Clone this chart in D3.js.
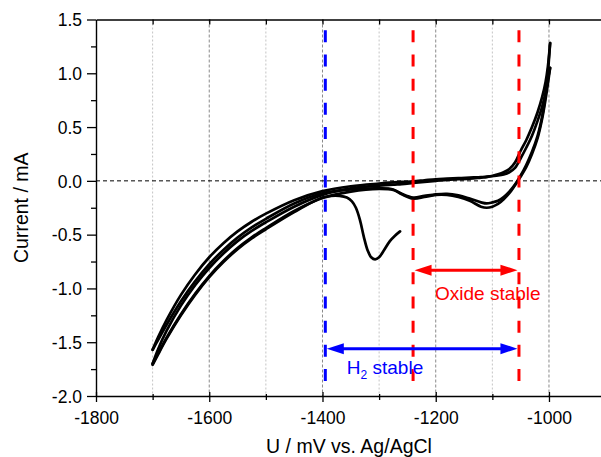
<!DOCTYPE html>
<html>
<head>
<meta charset="utf-8">
<script src="https://cdn.jsdelivr.net/npm/d3@7"></script>
<style>
  body { margin: 0; background: #fff; }
  svg { display: block; font-family: "Liberation Sans", Arial, sans-serif; }
</style>
</head>
<body>
<svg id="chart" width="601" height="457"></svg>
<script>
// Potential grid (mV vs. Ag/AgCl) shared by the full sweeps
const potential = [-1700,-1690,-1675,-1650,-1625,-1600,-1575,-1550,-1525,-1500,-1450,-1400,-1350,-1300,-1275,-1260,-1240,-1220,-1200,-1180,-1160,-1140,-1120,-1110,-1100,-1090,-1080,-1070,-1060,-1050,-1040,-1030,-1020,-1012,-1006,-1002,-998];

// Current (mA) of each sweep on the potential grid
const anodic1 = [-1.70,-1.56,-1.39,-1.16,-0.97,-0.81,-0.675,-0.56,-0.465,-0.385,-0.24,-0.13,-0.07,-0.045,-0.035,-0.03,-0.02,-0.01,0.00,0.01,0.015,0.02,0.03,0.035,0.045,0.06,0.08,0.11,0.17,0.28,0.38,0.50,0.64,0.78,0.92,1.06,1.28];
const cathodic1 = [-1.57,-1.475,-1.335,-1.12,-0.935,-0.775,-0.642,-0.528,-0.433,-0.353,-0.21,-0.115,-0.08,-0.07,-0.08,-0.12,-0.155,-0.14,-0.125,-0.12,-0.135,-0.165,-0.2,-0.21,-0.2,-0.185,-0.15,-0.1,-0.035,0.05,0.15,0.27,0.42,0.60,0.80,1.00,1.28];
const anodic2 = [-1.57,-1.45,-1.29,-1.06,-0.87,-0.71,-0.58,-0.47,-0.38,-0.305,-0.18,-0.095,-0.05,-0.025,-0.015,-0.01,-0.005,0.005,0.015,0.02,0.025,0.03,0.035,0.04,0.045,0.05,0.06,0.08,0.12,0.21,0.31,0.42,0.56,0.69,0.82,0.94,1.05];
const cathodic2 = [-1.70,-1.60,-1.455,-1.24,-1.05,-0.885,-0.745,-0.625,-0.525,-0.44,-0.28,-0.16,-0.10,-0.075,-0.085,-0.125,-0.165,-0.15,-0.13,-0.13,-0.15,-0.185,-0.24,-0.25,-0.24,-0.215,-0.17,-0.115,-0.04,0.04,0.13,0.25,0.40,0.58,0.76,0.90,1.05];

// First cathodic scan from the rest potential, with its reduction peak
const initialPotential = [-1700,-1690,-1675,-1650,-1625,-1600,-1575,-1550,-1525,-1500,-1450,-1400,-1385,-1370,-1357,-1348,-1341,-1334,-1327,-1320,-1314,-1307,-1300,-1292,-1281,-1272,-1263];
const initialCurrent = [-1.71,-1.61,-1.465,-1.25,-1.06,-0.895,-0.755,-0.635,-0.535,-0.45,-0.29,-0.155,-0.14,-0.14,-0.155,-0.19,-0.25,-0.36,-0.52,-0.65,-0.71,-0.73,-0.71,-0.65,-0.56,-0.51,-0.47];

// Stability window boundaries (mV) and their vertical extent (mA)
const h2Boundaries = [-1395, -1053];
const oxideBoundaries = [-1240, -1053];
const markerSpan = [1.40, -1.86];
const oxideArrowCurrent = -0.83;
const h2ArrowCurrent = -1.56;

// Axis ticks
const xTickValues = [-1800, -1600, -1400, -1200, -1000];
const xMinorTicks = [-1700, -1500, -1300, -1100];
const xGridValues = [-1700, -1600, -1500, -1400, -1300, -1200, -1100, -1000];
const yTickValues = [1.5, 1.0, 0.5, 0.0, -0.5, -1.0, -1.5, -2.0];
const yMinorTicks = [1.25, 0.75, 0.25, -0.25, -0.75, -1.25, -1.75];

const svg = d3.select("#chart");
const W = 601;
const x = d3.scaleLinear().domain([-1800, -900]).range([96, 605.6]);
const y = d3.scaleLinear().domain([-2, 1.5]).range([396, 19.5]);
const yBottom = y(-2), yTop = y(1.5);

// Vertical grid
svg.append("g").selectAll("line").data(xGridValues).join("line")
  .attr("x1", d => x(d)).attr("x2", d => x(d))
  .attr("y1", yTop).attr("y2", yBottom)
  .attr("stroke", d => (d % 200 === 0) ? "#8a8a8a" : "#c4c4c4")
  .attr("stroke-width", 1)
  .attr("stroke-dasharray", d => (d % 200 === 0) ? "3,2" : "2,2");

// Zero-current line
svg.append("line")
  .attr("x1", x(-1800)).attr("x2", W)
  .attr("y1", y(0)).attr("y2", y(0))
  .attr("stroke", "#000").attr("stroke-width", 1)
  .attr("stroke-dasharray", "4,3");

// Voltammogram
const line = d3.line().x(d => x(d[0])).y(d => y(d[1])).curve(d3.curveCatmullRom.alpha(0.5));
const sweeps = [anodic1, cathodic1, anodic2, cathodic2].map(s => potential.map((e, i) => [e, s[i]]));
sweeps.push(initialPotential.map((e, i) => [e, initialCurrent[i]]).sort((a, b) => a[0] - b[0]));
svg.append("g").selectAll("path").data(sweeps).join("path")
  .attr("d", line)
  .attr("fill", "none")
  .attr("stroke", "#000")
  .attr("stroke-width", 2.7)
  .attr("stroke-linecap", "round")
  .attr("stroke-linejoin", "round");

// Dashed boundary markers
const markers = [
  { e: h2Boundaries[0], color: "#0000ff" },
  { e: oxideBoundaries[0], color: "#ff0000" },
  { e: oxideBoundaries[1], color: "#ff0000" }
];
svg.append("g").selectAll("line").data(markers).join("line")
  .attr("x1", d => x(d.e)).attr("x2", d => x(d.e))
  .attr("y1", y(markerSpan[0])).attr("y2", y(markerSpan[1]))
  .attr("stroke", d => d.color)
  .attr("stroke-width", 3)
  .attr("stroke-dasharray", "12,12.2");

// Double-headed arrows
function doubleArrow(e0, e1, current, color) {
  const xa = x(e0) + 1.5, xb = x(e1) - 1.5, yy = y(current);
  const len = 17, hw = 5.5;
  const g = svg.append("g");
  g.append("line").attr("x1", xa + len - 2).attr("x2", xb - len + 2)
    .attr("y1", yy).attr("y2", yy)
    .attr("stroke", color).attr("stroke-width", 3);
  g.append("path")
    .attr("d", `M${xa},${yy}L${xa + len},${yy - hw}L${xa + len},${yy + hw}Z`)
    .attr("fill", color);
  g.append("path")
    .attr("d", `M${xb},${yy}L${xb - len},${yy - hw}L${xb - len},${yy + hw}Z`)
    .attr("fill", color);
}
doubleArrow(oxideBoundaries[0], oxideBoundaries[1], oxideArrowCurrent, "#ff0000");
doubleArrow(h2Boundaries[0], h2Boundaries[1], h2ArrowCurrent, "#0000ff");

svg.append("text")
  .attr("x", x(-1108)).attr("y", y(-1.107))
  .attr("text-anchor", "middle")
  .attr("font-size", 19).attr("fill", "#ff0000")
  .text("Oxide stable");

const h2Label = svg.append("text")
  .attr("x", x(-1357)).attr("y", y(-1.795))
  .attr("font-size", 19).attr("fill", "#0000ff");
h2Label.append("tspan").text("H");
h2Label.append("tspan").attr("font-size", 12).attr("dy", 5).text("2");
h2Label.append("tspan").attr("dy", -5).text(" stable");

// Frame: top edge with inward ticks
const frameTop = svg.append("g").attr("transform", `translate(0,${yTop})`)
  .call(d3.axisTop(x).tickValues(xGridValues).tickSize(-5).tickSizeOuter(0).tickFormat(""));
frameTop.select(".domain").attr("stroke-width", 1.3);
frameTop.selectAll(".tick line").attr("stroke-width", 1.3);

// Bottom axis
const bottomAxis = svg.append("g").attr("transform", `translate(0,${yBottom})`)
  .call(d3.axisBottom(x).tickValues(xTickValues).tickSize(6).tickSizeOuter(0).tickFormat(d => String(d)));
bottomAxis.select(".domain").attr("stroke-width", 1.4);
bottomAxis.selectAll(".tick line").attr("y1", -4).attr("stroke-width", 1.3);
bottomAxis.selectAll(".tick text").attr("y", 28).attr("dy", null)
  .attr("font-size", 17.5).attr("font-family", "Liberation Sans, Arial, sans-serif").attr("fill", "#000");
const bottomMinor = svg.append("g").attr("transform", `translate(0,${yBottom})`)
  .call(d3.axisBottom(x).tickValues(xMinorTicks).tickSize(4).tickSizeOuter(0).tickFormat(""));
bottomMinor.select(".domain").remove();
bottomMinor.selectAll(".tick line").attr("y1", -2).attr("stroke-width", 1.3);

// Left axis
const leftAxis = svg.append("g").attr("transform", `translate(${x(-1800)},0)`)
  .call(d3.axisLeft(y).tickValues(yTickValues).tickSize(9).tickSizeOuter(0).tickFormat(d => d.toFixed(1)));
leftAxis.select(".domain").attr("stroke-width", 1.4);
leftAxis.selectAll(".tick line").attr("stroke-width", 1.3);
leftAxis.selectAll(".tick text").attr("x", -14).attr("dy", "0.36em")
  .attr("font-size", 17.5).attr("font-family", "Liberation Sans, Arial, sans-serif").attr("fill", "#000");
const leftMinor = svg.append("g").attr("transform", `translate(${x(-1800)},0)`)
  .call(d3.axisLeft(y).tickValues(yMinorTicks).tickSize(5).tickSizeOuter(0).tickFormat(""));
leftMinor.select(".domain").remove();
leftMinor.selectAll(".tick line").attr("stroke-width", 1.3);

// Axis titles
svg.append("text")
  .attr("x", 349).attr("y", 453)
  .attr("text-anchor", "middle").attr("font-size", 19.5)
  .text("U / mV vs. Ag/AgCl");
svg.append("text")
  .attr("transform", `translate(28,${(yBottom + yTop) / 2}) rotate(-90)`)
  .attr("text-anchor", "middle").attr("font-size", 19.5)
  .text("Current / mA");
</script>
</body>
</html>
